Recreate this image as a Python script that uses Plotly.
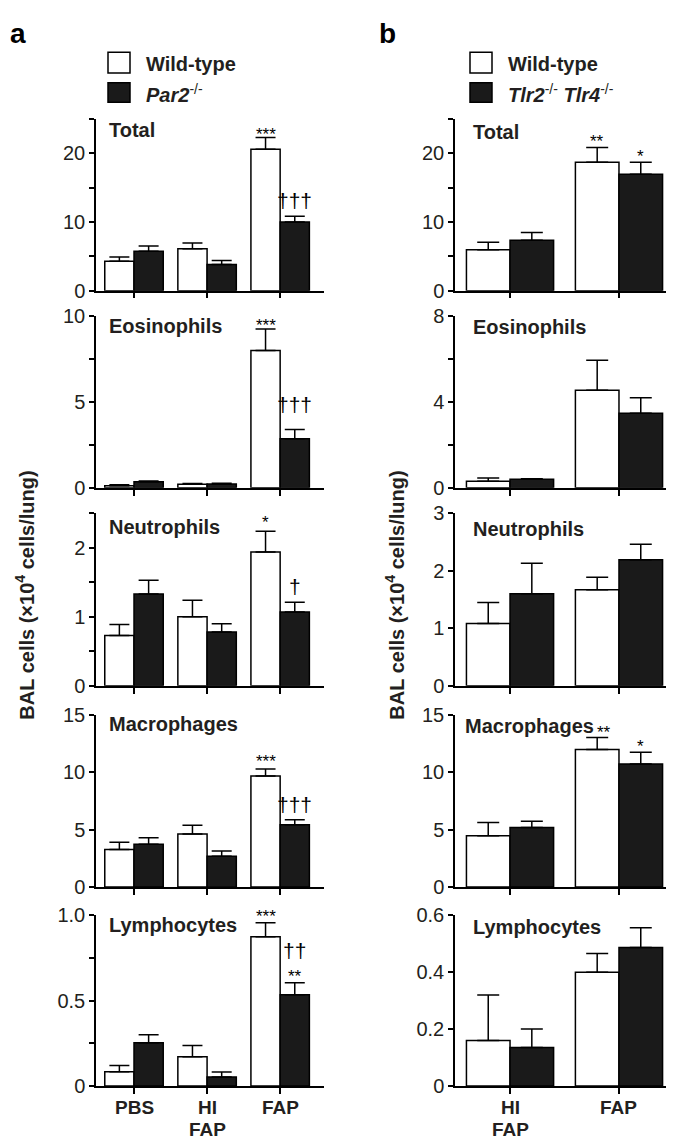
import plotly.graph_objects as go

# ---------------- data ----------------
cell_types = ["Total", "Eosinophils", "Neutrophils", "Macrophages", "Lymphocytes"]
groups_a = ["PBS", "HI<br>FAP", "FAP"]
groups_b = ["HI<br>FAP", "FAP"]
series_names_a = ["Wild-type", "<b><i>Par2</i></b><sup>-/-</sup>"]
series_names_b = ["Wild-type", "<b><i>Tlr2</i></b><sup>-/-</sup><b><i> Tlr4</i></b><sup>-/-</sup>"]

# panel a : Wild-type vs Par2-/-  (mean, SEM)
a_wt_mean = [[4.3, 6.1, 20.6], [0.12, 0.2, 8.0], [0.73, 1.0, 1.94], [3.27, 4.62, 9.7], [0.084, 0.172, 0.875]]
a_wt_sem = [[0.6, 0.85, 1.7], [0.05, 0.05, 1.25], [0.16, 0.24, 0.3], [0.63, 0.78, 0.6], [0.036, 0.065, 0.081]]
a_ko_mean = [[5.75, 3.8, 10.0], [0.35, 0.22, 2.85], [1.33, 0.78, 1.07], [3.73, 2.68, 5.44], [0.253, 0.053, 0.534]]
a_ko_sem = [[0.75, 0.6, 0.85], [0.05, 0.05, 0.55], [0.2, 0.12, 0.14], [0.57, 0.46, 0.43], [0.047, 0.029, 0.071]]

# panel b : Wild-type vs Tlr2-/- Tlr4-/-
b_wt_mean = [[5.95, 18.7], [0.3, 4.55], [1.085, 1.67], [4.47, 12.0], [0.16, 0.40]]
b_wt_sem = [[1.1, 2.15], [0.15, 1.4], [0.365, 0.22], [1.17, 1.05], [0.16, 0.066]]
b_ko_mean = [[7.33, 16.95], [0.4, 3.47], [1.6, 2.19], [5.19, 10.74], [0.135, 0.487]]
b_ko_sem = [[1.14, 1.75], [0.02, 0.73], [0.53, 0.27], [0.54, 1.03], [0.065, 0.069]]

# axis ranges, labelled ticks and unlabelled (minor) ticks
a_ymax = [25, 10, 2.5, 15, 1.0]
a_ticks = [[0, 10, 20], [0, 5, 10], [0, 1, 2], [0, 5, 10, 15], [0, 0.5, 1.0]]
a_ticktext = [["0", "10", "20"], ["0", "5", "10"], ["0", "1", "2"], ["0", "5", "10", "15"], ["0", "0.5", "1.0"]]
a_minor = [[5, 15, 25], [2.5, 7.5], [0.5, 1.5, 2.5], [], [0.25, 0.75]]
b_ymax = [25, 8, 3, 15, 0.6]
b_ticks = [[0, 10, 20], [0, 4, 8], [0, 1, 2, 3], [0, 5, 10, 15], [0, 0.2, 0.4, 0.6]]
b_ticktext = [["0", "10", "20"], ["0", "4", "8"], ["0", "1", "2", "3"], ["0", "5", "10", "15"], ["0", "0.2", "0.4", "0.6"]]
b_minor = [[5, 15, 25], [2, 6], [], [], []]

# significance marks: (cell index, group index, series, text)
a_marks = [(0, 2, 0, "***"), (0, 2, 1, "†††"), (1, 2, 0, "***"), (1, 2, 1, "†††"),
           (2, 2, 0, "*"), (2, 2, 1, "†"), (3, 2, 0, "***"), (3, 2, 1, "†††"),
           (4, 2, 0, "***"), (4, 2, 1, "**"), (4, 2, 1, "††")]
b_marks = [(0, 1, 0, "**"), (0, 1, 1, "*"), (3, 1, 0, "**"), (3, 1, 1, "*")]
# glyph-centre offset from the top of the error bar (px)
a_mark_gap = [8, 16, 9, 25, 14, 16, 13, 15, 11, 11, 32]
a_mark_dx = [0, 0, 0, 0, 0, 0, 0, 0, 0, 0, 0]
b_mark_gap = [11, 11, 10, 11]
b_mark_dx = [0, 0, 7, 0]

# ---------------- layout geometry (pixels) ----------------
W, H = 674, 1139
rows_px = [(102, 277), (303, 478), (504, 680), (710, 885), (914, 1088)]
xa_px = (88, 316)
xb_px = (447, 672)
title_x_a = [99, 99, 99, 99, 99]
title_x_b = [463, 463, 463, 455, 463]
title_y_a = [113, 313, 518, 719, 924]
title_y_b = [115, 314, 520, 721, 926]
xlabel_y = [1110, 1132]

FONT = "Liberation Sans, Arial, Helvetica, sans-serif"
TXT = "#231f20"


def fx(p):
    return p / W


def fy(p):
    return 1 - p / H


fig = go.Figure()
layout = dict(
    width=W, height=H, margin=dict(l=0, r=0, t=0, b=0),
    paper_bgcolor="white", plot_bgcolor="white",
    barmode="group", bargap=0.2, bargroupgap=0,
    showlegend=False, font=dict(family=FONT, color=TXT),
)
annotations = []
shapes = []


def add_panel(offset, means_wt, sems_wt, means_ko, sems_ko, groups, xpx, xr, ymaxs, ticks, ticktexts,
              minors, title_xs, title_ys, marks, gaps, dxs, cap):
    xs = list(range(len(groups)))
    for i in range(5):
        k = offset + i + 1
        sx = "" if k == 1 else str(k)
        xname, yname = "x" + sx, "y" + sx
        for m, e, col in [(means_wt[i], sems_wt[i], "white"), (means_ko[i], sems_ko[i], "#1a1a1a")]:
            fig.add_trace(go.Bar(
                x=xs, y=m, xaxis=xname, yaxis=yname,
                marker=dict(color=col, line=dict(color="black", width=1.5)),
                error_y=dict(type="data", array=e, arrayminus=[0] * len(e), symmetric=False,
                             color="black", thickness=1.5, width=cap),
                hoverinfo="skip",
            ))
        top, bot = rows_px[i]
        layout["xaxis" + sx] = dict(
            domain=[fx(xpx[0]), fx(xpx[1])], range=xr, anchor=yname,
            tickvals=xs, showticklabels=False,
            ticks="outside", ticklen=6, tickwidth=1.5, tickcolor="black",
            showline=True, linecolor="black", linewidth=1.5,
            showgrid=False, zeroline=False, fixedrange=True,
        )
        ydict = dict(
            domain=[fy(bot), fy(top)], range=[0, ymaxs[i]], anchor=xname,
            tickmode="array", tickvals=ticks[i], ticktext=ticktexts[i],
            tickfont=dict(size=20, family=FONT, color=TXT),
            ticks="outside", ticklen=5, tickwidth=1.5, tickcolor="black",
            showline=True, linecolor="black", linewidth=1.5,
            showgrid=False, zeroline=False, fixedrange=True,
        )
        if minors[i]:
            ydict["minor"] = dict(tickmode="array", tickvals=minors[i], ticks="outside",
                                  ticklen=5, tickwidth=1.5, tickcolor="black", showgrid=False)
        layout["yaxis" + sx] = ydict
        annotations.append(dict(
            text="<b>" + cell_types[i] + "</b>", xref="paper", yref="paper",
            x=fx(title_xs[i]), y=fy(title_ys[i]),
            xanchor="left", yanchor="middle", showarrow=False,
            font=dict(size=20, family=FONT, color=TXT),
        ))
        if i == 4:
            for g, lab in zip(xs, groups):
                for j, line in enumerate(lab.split("<br>")):
                    annotations.append(dict(
                        text="<b>" + line + "</b>", xref=xname, yref="paper",
                        x=g, y=fy(xlabel_y[j]), xanchor="center", yanchor="middle",
                        showarrow=False, font=dict(size=19, family=FONT, color=TXT),
                    ))
    for (ci, g, s, txt), gap, dx in zip(marks, gaps, dxs):
        k = offset + ci + 1
        sx = "" if k == 1 else str(k)
        means = (means_wt if s == 0 else means_ko)[ci]
        sems = (sems_wt if s == 0 else sems_ko)[ci]
        is_dag = "†" in txt
        annotations.append(dict(
            text=txt, xref="x" + sx, yref="y" + sx,
            x=g + (-0.2 if s == 0 else 0.2), y=means[g] + sems[g],
            xanchor="center", yanchor="middle", showarrow=False,
            yshift=gap if is_dag else gap - 5, xshift=dx,
            font=dict(size=21 if is_dag else 17, family=FONT, color="black"),
        ))


add_panel(0, a_wt_mean, a_wt_sem, a_ko_mean, a_ko_sem, groups_a, xa_px, [-0.52, 2.6],
          a_ymax, a_ticks, a_ticktext, a_minor, title_x_a, title_y_a, a_marks, a_mark_gap, a_mark_dx, 10)
add_panel(5, b_wt_mean, b_wt_sem, b_ko_mean, b_ko_sem, groups_b, xb_px, [-0.505, 1.56],
          b_ymax, b_ticks, b_ticktext, b_minor, title_x_b, title_y_b, b_marks, b_mark_gap, b_mark_dx, 11)

# y-axis titles
for xc in (17, 387):
    annotations.append(dict(
        text="<b>BAL cells (×10<sup>4</sup> cells/lung)</b>", xref="paper", yref="paper",
        x=fx(xc), y=fy(588), xanchor="center", yanchor="middle", textangle=-90,
        showarrow=False, font=dict(size=20, family=FONT, color=TXT),
    ))

# panel letters
for letter, xl in (("a", 0), ("b", 369)):
    annotations.append(dict(
        text="<b>" + letter + "</b>", xref="paper", yref="paper",
        x=fx(xl), y=fy(15), xanchor="left", yanchor="middle", showarrow=False,
        font=dict(size=28, family=FONT, color="black"),
    ))

# legends
for names, sq_x in ((series_names_a, 100), (series_names_b, 462)):
    for name, fill, (y0, y1) in zip(names, ["white", "#1a1a1a"], [(34, 55), (65, 85)]):
        shapes.append(dict(type="rect", xref="paper", yref="paper",
                           x0=fx(sq_x), x1=fx(sq_x + 22), y0=fy(y1), y1=fy(y0),
                           fillcolor=fill, line=dict(color="black", width=1.5)))
        label = name if name.startswith("<") else "<b>" + name + "</b>"
        annotations.append(dict(
            text=label, xref="paper", yref="paper",
            x=fx(sq_x + 36), y=fy((y0 + y1) / 2 + 1), xanchor="left", yanchor="middle",
            showarrow=False, font=dict(size=20, family=FONT, color=TXT),
        ))

layout["annotations"] = annotations
layout["shapes"] = shapes
fig.update_layout(**layout)
fig.write_html("out.html")
